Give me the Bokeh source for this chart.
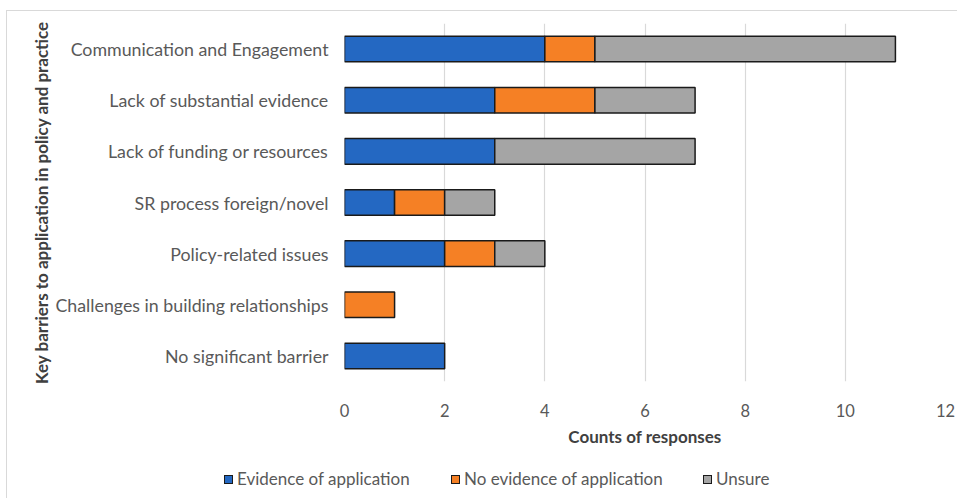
from bokeh.plotting import figure
from bokeh.models import ColumnDataSource, FixedTicker, Div
from bokeh.layouts import column
from bokeh.embed import file_html
from bokeh.resources import INLINE

# Barrier categories, listed top to bottom
categories = [
    "Communication and Engagement",
    "Lack of substantial evidence",
    "Lack of funding or resources",
    "SR process foreign/novel",
    "Policy-related issues",
    "Challenges in building relationships",
    "No significant barrier",
]
series_names = ["Evidence of application", "No evidence of application", "Unsure"]
evidence = [4, 3, 3, 1, 2, 0, 2]
no_evidence = [1, 2, 0, 1, 1, 1, 0]
unsure = [6, 2, 4, 1, 1, 0, 0]
x_ticks = [0, 2, 4, 6, 8, 10, 12]

colors = ["#2468C2", "#F58025", "#A5A5A5"]
FONT = "Lato"
TEXT = "#595959"
TITLE = "#404040"
EDGE = "#1a1a1a"

p = figure(
    width=951, height=450,
    y_range=list(reversed(categories)),
    x_range=(0, 12),
    output_backend="svg", toolbar_location=None,
    min_border_left=337, min_border_right=13,
    min_border_top=12, min_border_bottom=80,
)
p.outline_line_color = None
p.ygrid.grid_line_color = None
p.xgrid.grid_line_color = "#D9D9D9"
p.xgrid.grid_line_width = 1.2

# Stacked segments, skipping empty ones so no outline is drawn at zero width
series = [evidence, no_evidence, unsure]
left = [0] * len(categories)
for name, vals, col in zip(series_names, series, colors):
    rows = [i for i, v in enumerate(vals) if v > 0]
    src = ColumnDataSource(dict(
        y=[categories[i] for i in rows],
        left=[left[i] for i in rows],
        right=[left[i] + vals[i] for i in rows],
    ))
    p.hbar(y="y", left="left", right="right", height=0.5, source=src,
           fill_color=col, line_color=EDGE, line_width=1.5)
    left = [l + v for l, v in zip(left, vals)]

# Axes
p.xaxis.ticker = FixedTicker(ticks=x_ticks)
p.xaxis.axis_line_color = None
p.xaxis.major_tick_line_color = None
p.xaxis.minor_tick_line_color = None
p.xaxis.major_label_standoff = 16
p.xaxis.major_label_text_font = FONT
p.xaxis.major_label_text_font_size = "16.5px"
p.xaxis.major_label_text_color = TEXT
p.xaxis.axis_label = "Counts of responses"
p.xaxis.axis_label_text_font = FONT
p.xaxis.axis_label_text_font_size = "17px"
p.xaxis.axis_label_text_font_style = "bold"
p.xaxis.axis_label_text_color = TITLE
p.xaxis.axis_label_standoff = 6

p.yaxis.axis_line_color = None
p.yaxis.major_tick_line_color = None
p.yaxis.minor_tick_line_color = None
p.yaxis.major_label_standoff = 10
p.yaxis.major_label_text_font = FONT
p.yaxis.major_label_text_font_size = "17.8px"
p.yaxis.major_label_text_color = TEXT
p.yaxis.axis_label = "Key barriers to application in policy and practice"
p.yaxis.axis_label_text_font = FONT
p.yaxis.axis_label_text_font_size = "17px"
p.yaxis.axis_label_text_font_style = "bold"
p.yaxis.axis_label_text_color = TITLE
p.yaxis.axis_label_standoff = 0

# Legend strip below the chart: a swatch and a name per series
item_left = [212, 439, 691]
parts = []
for name, col, x in zip(series_names, colors, item_left):
    parts.append(
        f'<div style="position:absolute; left:{x}px; top:3px; height:20px; '
        f'display:flex; align-items:center;">'
        f'<span style="display:inline-block; width:9px; height:9px; background:{col}; '
        f'border:1.5px solid {EDGE}; margin-right:4px; margin-top:1px;"></span>'
        f'<span>{name}</span></div>'
    )
legend_html = (
    f'<div style="position:relative; width:951px; height:38px; font-family:{FONT}; '
    f'font-size:17px; color:{TEXT}; line-height:20px;">' + "".join(parts) + "</div>"
)
legend_div = Div(text=legend_html, width=951, height=38)

page = column(p, legend_div, spacing=0)
page.styles = {
    "margin-left": "6px", "margin-top": "10px",
    "border-left": "1.5px solid #D9D9D9", "border-top": "1.5px solid #D9D9D9",
}

open("out.html", "w").write(file_html(page, INLINE))
